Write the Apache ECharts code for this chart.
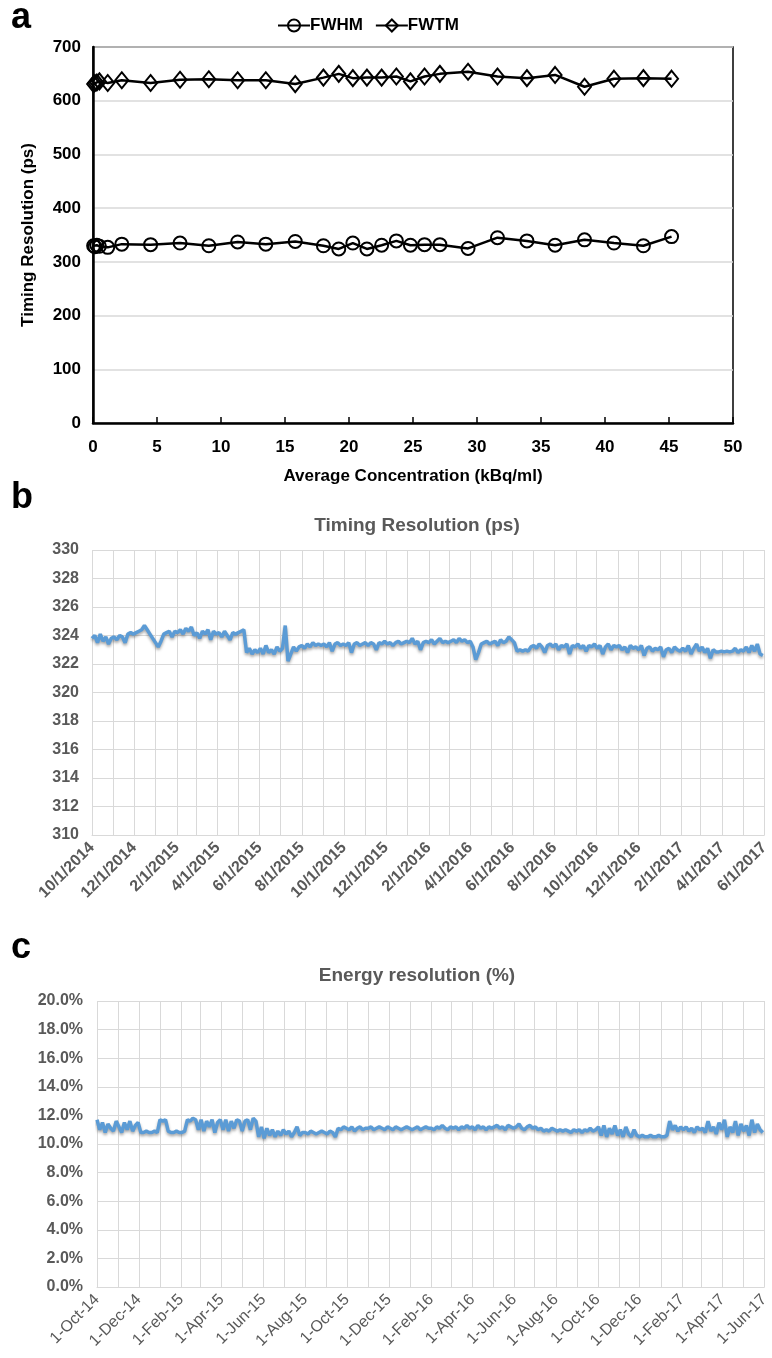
<!DOCTYPE html>
<html><head><meta charset="utf-8">
<script src="https://cdn.jsdelivr.net/npm/echarts@6/dist/echarts.min.js"></script>
<style>html,body{margin:0;padding:0;background:#fff}#c{width:772px;height:1358px}</style>
</head><body><div id="c"></div>
<script>
// ---------- Panel a ----------
const concentration = [0.05, 0.15, 0.3, 0.5, 1.15, 2.25, 4.5, 6.8, 9.05, 11.3, 13.5, 15.8, 18.0, 19.2, 20.3, 21.4, 22.55, 23.7, 24.8, 25.9, 27.1, 29.3, 31.6, 33.9, 36.1, 38.4, 40.7, 43.0, 45.2];
const fwhm = [330, 328, 331, 329, 327, 333, 332, 335, 330, 337, 333, 338, 330, 324, 335, 324, 331, 339, 331, 332, 332, 325, 345, 339, 331, 341, 335, 330, 347];
const fwtm = [631, 633, 634, 636, 633, 638, 633, 639, 640, 638, 638, 631, 643, 650, 642, 643, 643, 645, 636, 645, 650, 654, 645, 642, 648, 626, 641, 642, 641];

// ---------- Panels b, c (one sample every 4 days from startDate) ----------
const startDate = '2014-10-01';
const endDate = '2017-06-01';
const sampleStepDays = 4;
const timingRes = [
323.8, 324.0, 323.5, 324.1, 323.6, 323.9, 323.4, 323.8,
323.9, 323.7, 324.0, 323.9, 323.5, 324.1, 324.2, 324.1,
324.2, 324.3, 324.4, 324.7, 324.4, 324.1, 323.8, 323.5,
323.2, 323.6, 324.1, 324.2, 324.3, 323.9, 324.3, 324.2,
324.4, 324.1, 324.5, 324.3, 324.6, 324.0, 324.2, 323.8,
324.3, 324.1, 324.4, 323.7, 324.3, 324.1, 324.2, 323.9,
324.3, 324.0, 323.7, 324.2, 324.1, 324.2, 324.3, 324.4,
322.8, 323.1, 322.7, 323.0, 322.8, 323.1, 322.7, 323.3,
322.8, 323.0, 322.7, 323.2, 322.9, 323.1, 324.7, 322.2,
322.7, 323.2, 322.9, 323.2, 323.3, 323.1, 323.4, 323.2,
323.5, 323.3, 323.4, 323.3, 323.4, 323.2, 323.5, 322.9,
323.4, 323.5, 323.3, 323.4, 323.3, 323.5, 322.8, 323.4,
323.5, 323.3, 323.4, 323.5, 323.3, 323.5, 323.4, 323.0,
323.5, 323.4, 323.6, 323.4, 323.5, 323.3, 323.5, 323.6,
323.4, 323.5, 323.6, 323.5, 323.8, 323.4, 323.6, 323.0,
323.5, 323.6, 323.5, 323.7, 323.4, 323.6, 323.8, 323.5,
323.6, 323.5, 323.6, 323.7, 323.5, 323.8, 323.6, 323.7,
323.5, 323.6, 323.2, 322.3, 322.8, 323.4, 323.5, 323.6,
323.4, 323.5, 323.6, 323.3, 323.7, 323.5, 323.6, 323.9,
323.7, 323.5, 322.9, 323.0, 322.9, 323.0, 322.9, 323.2,
323.3, 323.1, 323.4, 323.2, 322.8, 323.3, 323.4, 323.2,
323.4, 323.0, 323.3, 323.2, 323.4, 322.7, 323.3, 323.2,
323.4, 323.1, 323.3, 322.9, 323.3, 323.2, 323.4, 323.1,
323.3, 322.7, 323.2, 323.4, 323.0, 323.3, 323.2, 323.3,
323.0, 323.2, 322.8, 323.3, 323.1, 323.2, 323.0, 323.3,
322.6, 323.1, 323.2, 322.9, 323.1, 323.0, 323.2, 322.5,
323.0, 323.1, 322.8, 323.2, 323.0, 322.9, 323.1, 322.9,
323.3, 322.7, 323.1, 323.4, 322.9, 323.2, 322.8, 323.1,
322.4, 323.0, 322.85, 322.85, 322.9, 322.85, 322.9, 322.85,
322.9, 323.1, 322.8, 323.0, 322.9, 323.2, 322.8, 323.3,
322.9, 323.4, 322.7, 322.6
];
const energyRes = [
11.7, 11.0, 11.5, 10.8, 11.4, 11.1, 10.9, 11.6,
11.2, 10.8, 11.5, 11.0, 11.6, 10.9, 11.3, 11.5,
10.8, 10.8, 10.9, 10.8, 10.8, 10.9, 10.8, 11.7,
11.6, 11.7, 10.9, 10.8, 10.8, 10.9, 10.8, 10.8,
10.9, 11.7, 11.6, 11.8, 11.7, 11.0, 11.7, 10.9,
11.6, 11.2, 11.7, 10.8, 11.5, 11.7, 11.0, 11.7,
10.9, 11.6, 11.1, 11.7, 11.6, 10.9, 11.6, 11.7,
11.0, 11.8, 11.6, 10.5, 11.2, 10.4, 11.1, 10.6,
11.0, 10.5, 10.9, 10.6, 11.0, 10.7, 10.9, 10.5,
10.8, 11.2, 10.6, 10.8, 10.8, 10.7, 10.9, 10.8,
10.7, 10.8, 10.9, 10.8, 10.7, 10.9, 10.8, 10.5,
11.1, 11.0, 11.2, 11.1, 11.0, 11.2, 10.9, 11.1,
11.2, 11.0, 11.1, 11.1, 11.2, 11.0, 11.1, 11.2,
11.1, 11.0, 11.2, 11.1, 11.0, 11.2, 11.1, 11.0,
11.1, 11.2, 11.1, 11.0, 11.1, 11.2, 11.0, 11.1,
11.2, 11.1, 11.1, 11.0, 11.2, 11.1, 11.3, 11.1,
11.0, 11.2, 11.1, 11.2, 11.0, 11.2, 11.1, 11.3,
11.1, 11.2, 11.0, 11.3, 11.1, 11.2, 11.0, 11.2,
11.1, 11.2, 11.3, 11.1, 11.2, 11.0, 11.3, 11.2,
11.1, 11.2, 11.4, 11.1, 11.0, 11.2, 11.3, 11.1,
11.2, 11.0, 11.1, 10.9, 11.0, 10.9, 11.1, 11.0,
10.9, 11.0, 10.9, 11.0, 10.9, 10.8, 11.0, 10.9,
11.0, 10.8, 11.0, 10.9, 11.1, 10.9, 11.0, 11.2,
10.6, 11.3, 10.5, 11.1, 10.7, 11.3, 10.6, 11.0,
10.5, 11.2, 10.7, 10.5, 11.0, 10.6, 10.5, 10.6,
10.5, 10.5, 10.6, 10.5, 10.5, 10.6, 10.5, 10.5,
10.6, 11.6, 11.0, 11.3, 10.9, 11.2, 11.0, 11.2,
10.9, 11.1, 10.8, 11.2, 11.0, 11.1, 10.8, 11.6,
10.9, 11.2, 10.7, 11.5, 11.0, 11.7, 10.5, 11.2,
10.8, 11.6, 10.6, 11.4, 10.9, 11.3, 10.6, 11.7,
10.8, 11.4, 11.0, 10.8
];
const monthNames = ['Jan','Feb','Mar','Apr','May','Jun','Jul','Aug','Sep','Oct','Nov','Dec'];

function dayList(s, e) {
  const out = [];
  let t = Date.parse(s + 'T00:00:00Z');
  const end = Date.parse(e + 'T00:00:00Z');
  while (t <= end) { out.push(new Date(t).toISOString().slice(0, 10)); t += 86400000; }
  return out;
}
const days = dayList(startDate, endDate);
const isMonthStart = v => v.slice(8) === '01';
const isLabelDay = v => isMonthStart(v) && (+v.slice(5, 7)) % 2 === 0;
const fmtB = v => (+v.slice(5, 7)) + '/' + (+v.slice(8)) + '/' + v.slice(0, 4);
const fmtC = v => (+v.slice(8)) + '-' + monthNames[+v.slice(5, 7) - 1] + '-' + v.slice(2, 4);

const FONT = "'Liberation Sans', Arial, Helvetica, sans-serif";
const GRAY = '#595959';
const GRID = '#d9d9d9';
const BLUE = '#5B9BD5';

const chart = echarts.init(document.getElementById('c'), null, {renderer: 'canvas'});

function timeSeries(vals, idx) {
  return {
    type: 'line', xAxisIndex: idx, yAxisIndex: idx,
    data: vals.map((v, i) => [days[Math.min(i * sampleStepDays, days.length - 1)], v]),
    showSymbol: false, symbol: 'none', animation: false,
    lineStyle: {color: BLUE, width: 3.5, shadowColor: 'rgba(0,0,0,0.35)', shadowBlur: 3, shadowOffsetY: 2},
    itemStyle: {color: BLUE}
  };
}
function dateAxis(idx, fmt, bold, size) {
  return {
    type: 'category', gridIndex: idx, data: days, boundaryGap: false,
    axisLine: {show: true, lineStyle: {color: GRID, width: 1}},
    axisTick: {show: false},
    splitLine: {show: true, interval: (i, v) => isMonthStart(v), lineStyle: {color: GRID, width: 1}},
    axisLabel: {
      interval: (i, v) => isLabelDay(v), rotate: 45, margin: 10,
      formatter: fmt, color: GRAY, fontFamily: FONT, fontSize: size, fontWeight: bold ? 'bold' : 'normal'
    }
  };
}

const option = {
  animation: false,
  backgroundColor: '#fff',
  textStyle: {fontFamily: FONT},
  title: [
    {text: 'Timing Resolution (ps)', left: 412, top: 511, textAlign: 'center',
     textStyle: {color: GRAY, fontSize: 19, fontWeight: 'bold', fontFamily: FONT}},
    {text: 'Energy resolution (%)', left: 412, top: 961, textAlign: 'center',
     textStyle: {color: GRAY, fontSize: 19, fontWeight: 'bold', fontFamily: FONT}}
  ],
  legend: {
    left: 272, top: 12, itemGap: 12, itemWidth: 32, itemHeight: 15,
    data: ['FWHM', 'FWTM'],
    textStyle: {color: '#000', fontSize: 17, fontWeight: 'bold', fontFamily: FONT, padding: [0, 0, 0, -5]}
  },
  graphic: [
    {type: 'text', left: 11, top: 0, style: {text: 'a', font: 'bold 36px ' + FONT, fill: '#000'}},
    {type: 'text', left: 11, top: 480, style: {text: 'b', font: 'bold 36px ' + FONT, fill: '#000'}},
    {type: 'text', left: 11, top: 930, style: {text: 'c', font: 'bold 36px ' + FONT, fill: '#000'}}
  ],
  grid: [
    {left: 93, top: 47, width: 640, height: 376, show: true, borderColor: '#000', borderWidth: 1.5, backgroundColor: 'transparent'},
    {left: 92, top: 550, width: 679, height: 285},
    {left: 97, top: 1001, width: 674, height: 286}
  ],
  xAxis: [
    {type: 'value', gridIndex: 0, min: 0, max: 50, interval: 5,
     name: 'Average Concentration (kBq/ml)', nameLocation: 'middle', nameGap: 45,
     nameTextStyle: {color: '#000', fontSize: 17, fontWeight: 'bold', fontFamily: FONT},
     axisLine: {show: true, lineStyle: {color: '#000', width: 2.5}},
     axisTick: {show: true, inside: true, length: 6, lineStyle: {color: '#000', width: 1.5}},
     splitLine: {show: false},
     axisLabel: {color: '#000', fontSize: 17, fontWeight: 'bold', fontFamily: FONT, margin: 16}},
    dateAxis(1, fmtB, true, 16),
    dateAxis(2, fmtC, false, 16)
  ],
  yAxis: [
    {type: 'value', gridIndex: 0, min: 0, max: 700, interval: 100,
     name: 'Timing Resolution (ps)', nameLocation: 'middle', nameGap: 56, nameRotate: 90,
     nameTextStyle: {color: '#000', fontSize: 17, fontWeight: 'bold', fontFamily: FONT},
     axisLine: {show: true, lineStyle: {color: '#000', width: 2.5}},
     axisTick: {show: false},
     splitLine: {show: true, lineStyle: {color: GRID, width: 1.5}},
     axisLabel: {color: '#000', fontSize: 17, fontWeight: 'bold', fontFamily: FONT, margin: 12}},
    {type: 'value', gridIndex: 1, min: 310, max: 330, interval: 2,
     axisLine: {show: false}, axisTick: {show: false},
     splitLine: {show: true, lineStyle: {color: GRID, width: 1}},
     axisLabel: {color: GRAY, fontSize: 16, fontWeight: 'bold', fontFamily: FONT, margin: 13}},
    {type: 'value', gridIndex: 2, min: 0, max: 20, interval: 2,
     axisLine: {show: false}, axisTick: {show: false},
     splitLine: {show: true, lineStyle: {color: GRID, width: 1}},
     axisLabel: {color: GRAY, fontSize: 16, fontWeight: 'bold', fontFamily: FONT, margin: 14,
                 formatter: v => v.toFixed(1) + '%'}}
  ],
  series: [
    {name: 'FWHM', type: 'line', xAxisIndex: 0, yAxisIndex: 0,
     data: concentration.map((x, i) => [x, fwhm[i]]),
     symbol: 'circle', symbolSize: 13, showAllSymbol: true,
     lineStyle: {color: '#000', width: 2.5},
     itemStyle: {color: 'rgba(255,255,255,0)', borderColor: '#000', borderWidth: 2}},
    {name: 'FWTM', type: 'line', xAxisIndex: 0, yAxisIndex: 0,
     data: concentration.map((x, i) => [x, fwtm[i]]),
     symbol: 'diamond', symbolSize: [13, 16], showAllSymbol: true,
     lineStyle: {color: '#000', width: 2.5},
     itemStyle: {color: 'rgba(255,255,255,0)', borderColor: '#000', borderWidth: 2}},
    timeSeries(timingRes, 1),
    timeSeries(energyRes, 2)
  ]
};
chart.setOption(option);
</script>
</body></html>
